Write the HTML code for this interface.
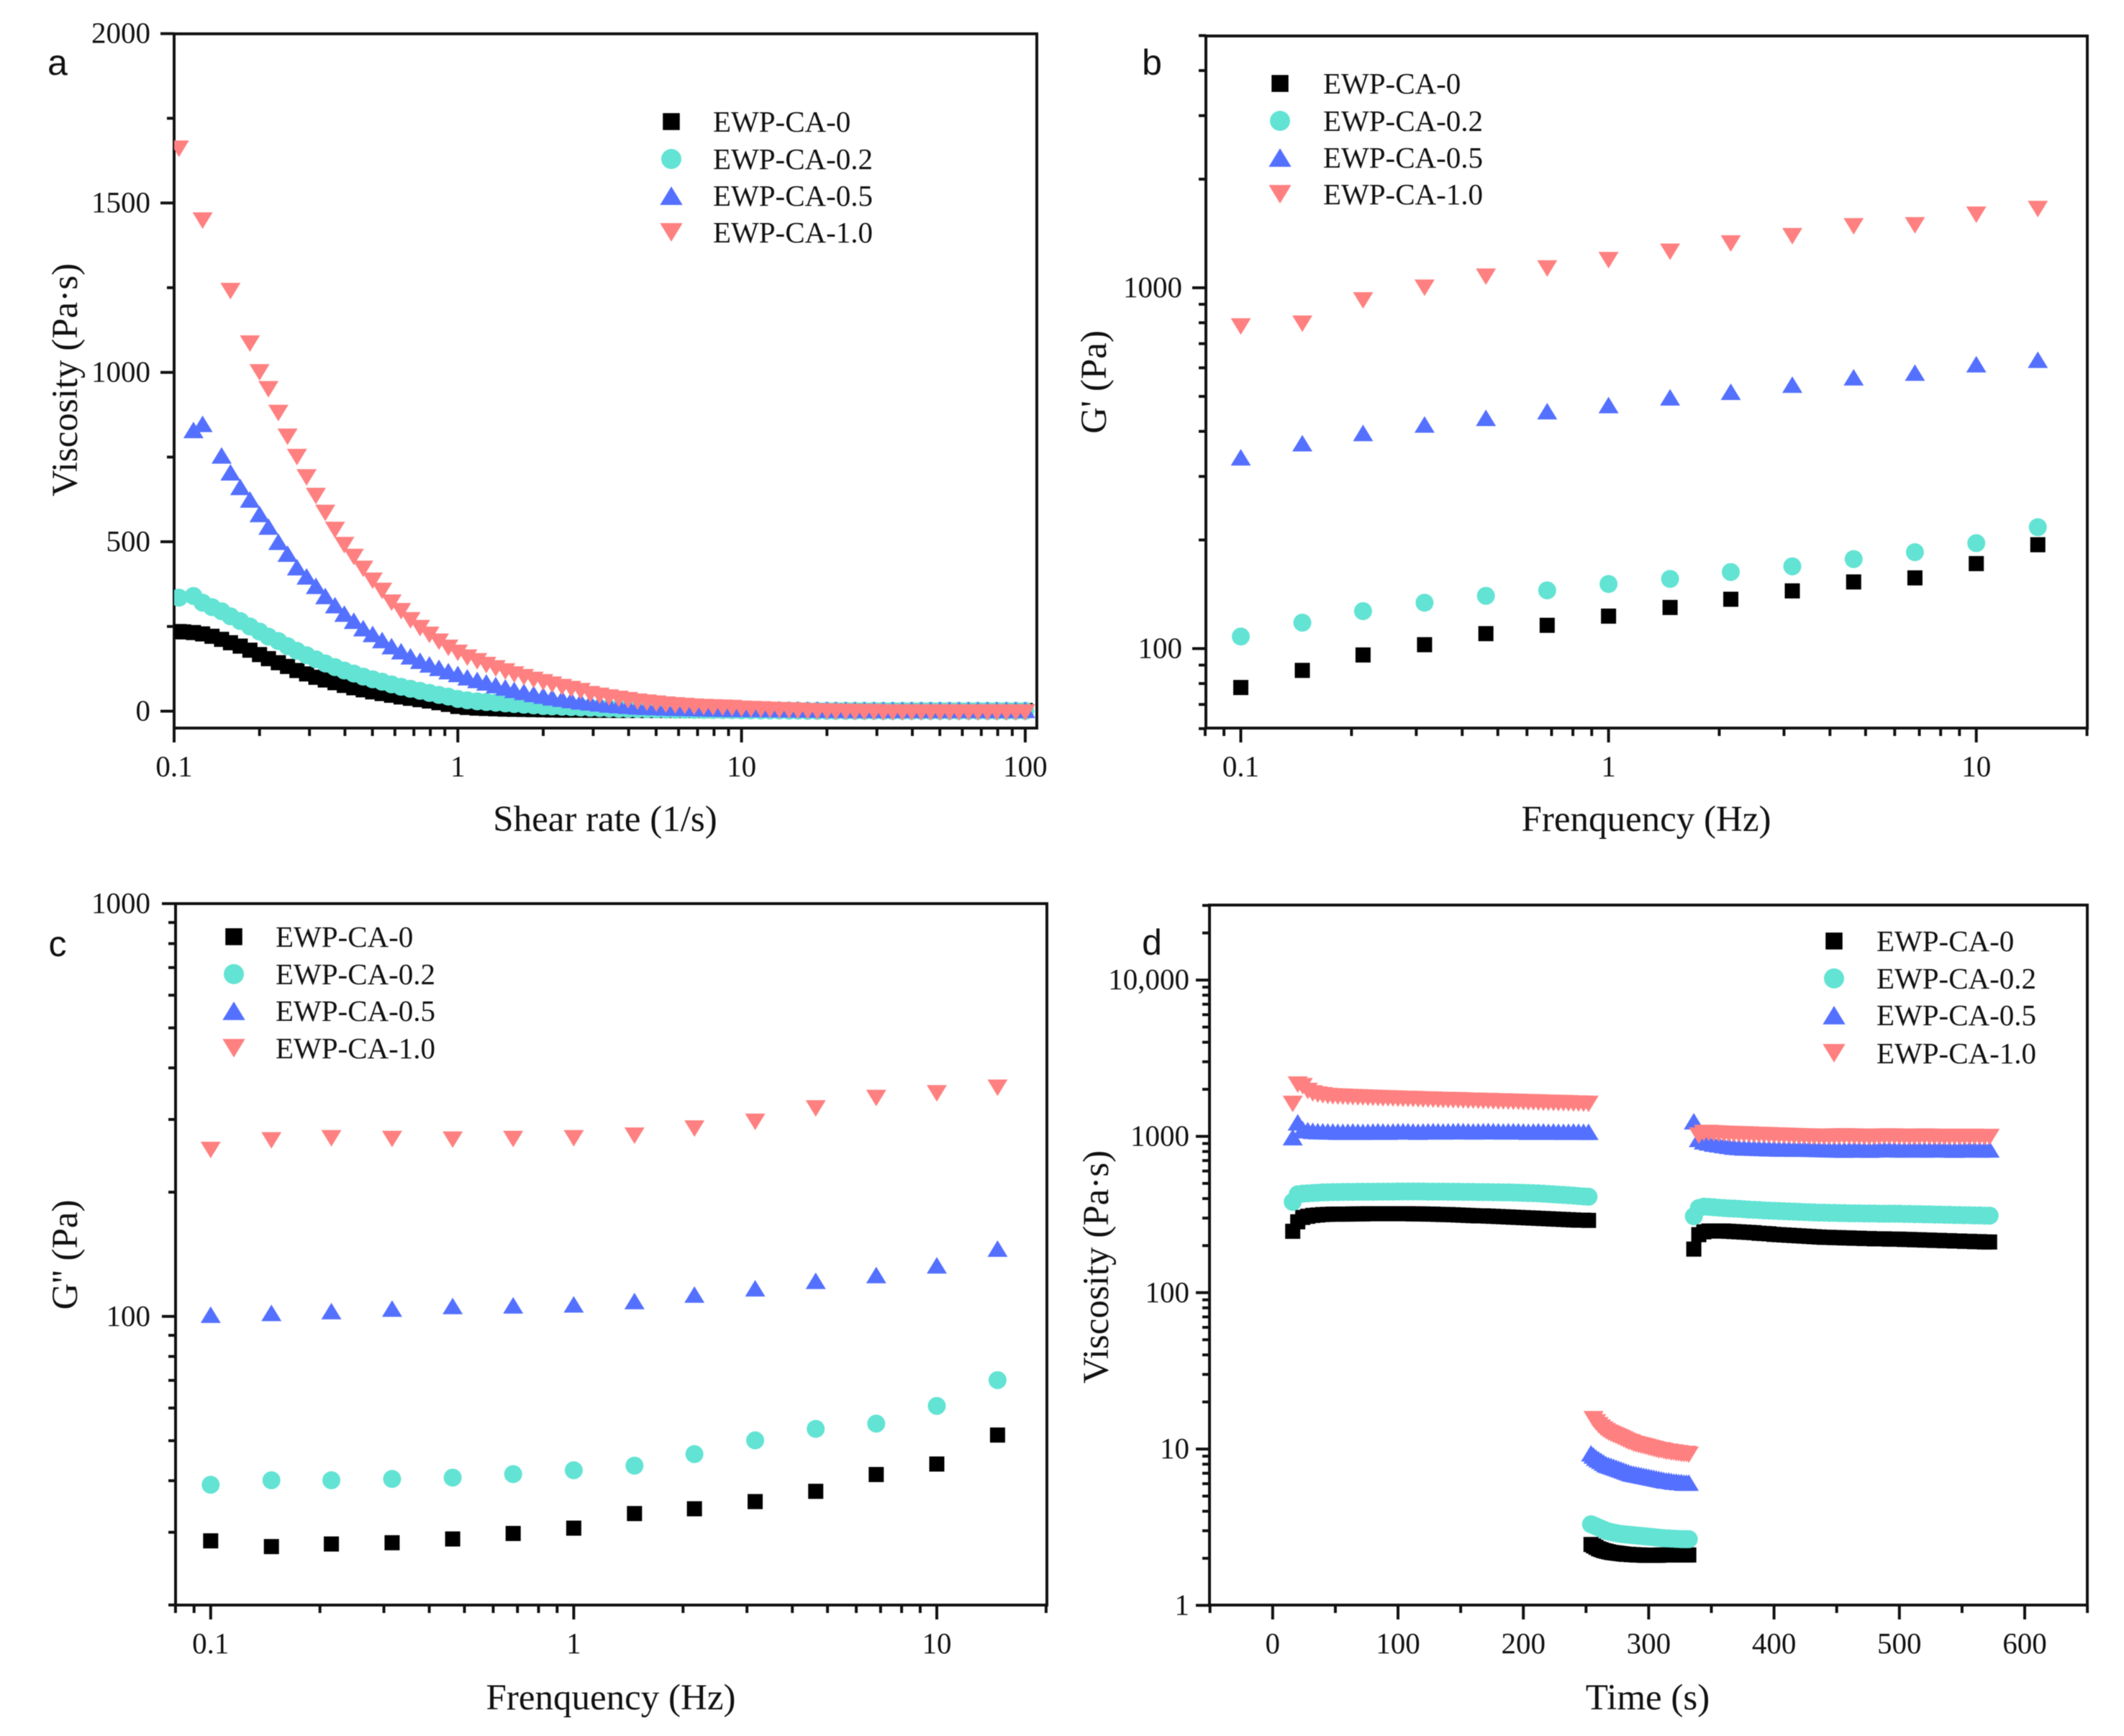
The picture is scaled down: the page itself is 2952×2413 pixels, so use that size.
<!DOCTYPE html>
<html lang="en">
<head>
<meta charset="utf-8">
<title>EWP-CA rheology panels</title>
<style>
html,body{margin:0;padding:0;background:#fff;}
svg{display:block;filter:blur(0.6px);}
text{font-family:"Liberation Serif",serif;fill:#111;}
.tick{font-size:41px;}
.title{font-size:51px;}
.legend{font-size:41px;}
.letter{font-family:"Liberation Sans",sans-serif;font-size:50px;fill:#111;}
</style>
</head>
<body>
<svg id="figure" xmlns="http://www.w3.org/2000/svg" width="2952" height="2413" viewBox="0 0 2952 2413">
<rect width="2952" height="2413" fill="#fff"/>
<defs>
<clipPath id="clip-a"><rect x="242" y="20" width="1198" height="992"/></clipPath>
</defs>
<g id="panel-a"></g>
<g id="panel-b"></g>
<g id="panel-c"></g>
<g id="panel-d"></g>
</svg>
<script>
const seriesNames = ["EWP-CA-0","EWP-CA-0.2","EWP-CA-0.5","EWP-CA-1.0"];

/* Panel a */
const shearRates = [0.104,0.108,0.117,0.126,0.136,0.147,0.158,0.171,0.185,0.2,0.215,0.233,0.251,0.271,0.293,0.316,0.341,0.369,0.398,0.43,0.464,0.501,0.541,0.584,0.631,0.681,0.736,0.794,0.858,0.926,
1,1.08,1.17,1.26,1.36,1.47,1.58,1.71,1.85,2,2.15,2.33,2.51,2.71,2.93,3.16,3.41,3.69,3.98,4.3,4.64,5.01,5.41,5.84,6.31,6.81,7.36,7.94,8.58,9.26,
10,10.8,11.7,12.6,13.6,14.7,15.8,17.1,18.5,20,21.5,23.3,25.1,27.1,29.3,31.6,34.1,36.9,39.8,43,46.4,50.1,54.1,58.4,63.1,68.1,73.6,79.4,85.8,92.6,100];
const viscA0 = [235,234,232,228,221,212,202,192,180,167,155,143,132,120,110,100,92,84,76,69,63,57,52,47,42,38,34,30,25,20,
14,11,9,8,7,6,5.5,5,4.5,4,3.5,3,3,3,2.5,2.5,2.5,2,2,2,2,2,2,2,2,2,2,2,2,2,
2,2,2,2,2,2,2,2,2,2,2,2,2,2,2,2,2,2,2,2,2,2,2,2,2,2,2,2,2,2,2];
const viscA02 = [335,null,340,320,307,295,280,266,250,235,220,207,192,178,165,153,141,130,120,111,102,94,87,79,72,66,60,54,48,43,
36,32,29,27,25,23,21,19,17,15,14,13,12,11,10,9,8,7,6.5,6,5.5,5,4.5,4.2,4,3.8,3.6,3.4,3.2,3,
2.5,2.5,2,2,2,1.5,1.5,1,1,1,1,1,1,1,1,1,1,1,1,1,1,1,1,1,1,1,1,1,1,1,1];
const viscA05 = [null,null,830,848,null,755,705,662,625,582,545,500,465,425,398,370,340,313,288,267,245,228,210,192,177,162,149,138,128,118,
110,100,92,85,77,70,63,57,51,46,41,37,33,29,26,23,20,18,16,14,13,12,11,10,9.5,9,8.5,8,7.5,7,
7,6.5,6.5,6,6,5.5,5.5,5,5,4.5,4.5,4,4,4,4,4,4,4,4,4,4,4,4,4,4,4,4,4,4,4,4];
const viscA10 = [1660,null,null,1448,null,null,1240,null,1085,1000,950,880,810,750,690,635,585,535,490,455,420,385,355,320,295,268,245,225,205,187,
172,158,147,136,126,117,108,100,92,85,78,71,65,59,50,45,40,36,32,28,25,22,19,17,15,13,12,11,10,9,
7,6,5,4,3,2,1,0,-1,-1,-2,-2,-3,-3,-3,-4,-4,-4,-4,-4,-4,-4,-4,-4,-4,-4,-4,-4,-4,-4,-4];
const xTicksA = [0.1,1,10,100];
const yTicksA = [0,500,1000,1500,2000];
const yMinorA = [250,750,1250,1750];

/* Panels b and c */
const frequencies = [0.1,0.147,0.215,0.316,0.464,0.681,1,1.47,2.15,3.16,4.64,6.81,10,14.7];
const gPrime0 = [78,87,96,102.5,110,116,123,130,137,144.5,153,157,172,194];
const gPrime02 = [108,118,127,134,140,145,151,156,163,169,177,185,196,217];
const gPrime05 = [339,371,396,418,436,455,473,497,515,539,565,582,614,632];
const gPrime10 = [781,795,922,1000,1073,1131,1193,1258,1326,1389,1480,1489,1594,1652];
const gDouble0 = [28.6,27.7,28.1,28.3,28.9,29.8,30.7,33.3,34.2,35.6,37.7,41.4,43.9,51.6];
const gDouble02 = [39.1,40.1,40.1,40.4,40.7,41.5,42.4,43.5,46.4,50.1,53.4,55,60.7,70.1];
const gDouble05 = [101,102,103,104.5,106,106.4,107,109,113,117,122,126,133,146];
const gDouble10 = [253,267,270,269,268,269,270,274,285,296,319,338,347,358];
const xTicksFreq = [0.1,1,10];
const yTicksB = [100,1000];
const yMinorB = [60,70,80,90,200,300,400,500,600,700,800,900,2000,3000,4000,5000];
const yTicksC = [100,1000];
const yMinorC = [20,30,40,50,60,70,80,90,200,300,400,500,600,700,800,900];

/* Panel d */
const timeHold1 = [16,20,24,28,32,36,40,44,48,52,56,60,64,68,72,76,80,84,88,92,96,100,104,108,112,116,120,124,128,132,136,140,144,148,152,156,160,164,168,172,176,180,184,188,192,196,200,204,208,212,216,220,224,228,232,236,240,244,248,252];
const timeShear = [254,256,258,260,262,264,266,268,270,272,274,276,278,280,282,284,286,288,290,292,294,296,298,300,302,304,306,308,310,312,314,316,318,320,322,324,326,328,330,332];
const timeHold2 = [336,340,344,348,352,356,360,364,368,372,376,380,384,388,392,396,400,404,408,412,416,420,424,428,432,436,440,444,448,452,456,460,464,468,472,476,480,484,488,492,496,500,504,508,512,516,520,524,528,532,536,540,544,548,552,556,560,564,568,572];

const hold1Black = [247,284,303,308,312,314,316,317,318,318,318,318,319,319,319,320,320,320,320,320,320,320,320,320,319,319,319,318,318,317,316,316,315,314,313,312,311,310,310,309,308,307,306,305,304,303,302,301,300,299,298,297,296,295,294,293,292,291,291,290];
const hold1Teal = [381,426,430,432,434,436,438,439,440,440,441,441,441,442,442,442,442,443,443,443,443,444,444,444,444,444,444,443,443,443,443,442,442,442,441,441,441,440,440,440,439,439,438,438,437,436,435,434,433,432,430,428,426,424,422,420,418,415,413,411];
const hold1Blue = [988,1230,1110,1095,1085,1080,1078,1075,1075,1072,1070,1072,1075,1072,1070,1072,1075,1078,1075,1072,1075,1078,1080,1078,1075,1072,1075,1078,1080,1078,1075,1078,1080,1082,1080,1078,1075,1078,1080,1082,1080,1078,1075,1078,1080,1078,1075,1072,1075,1078,1075,1072,1075,1072,1070,1072,1075,1072,1070,1070];
const hold1Red = [1610,2143,2090,1950,1880,1850,1830,1810,1800,1795,1790,1785,1780,1775,1770,1765,1760,1755,1750,1750,1745,1740,1735,1735,1730,1725,1720,1720,1715,1710,1705,1705,1700,1700,1695,1690,1690,1685,1680,1680,1675,1670,1670,1665,1660,1660,1655,1650,1650,1645,1640,1640,1635,1630,1630,1625,1620,1620,1615,1610];

const shearBlack = [2.45,2.4,2.35,2.3,2.27,2.24,2.22,2.2,2.18,2.17,2.16,2.15,2.14,2.13,2.12,2.12,2.11,2.11,2.1,2.1,2.1,2.09,2.09,2.09,2.09,2.09,2.09,2.09,2.1,2.1,2.1,2.1,2.1,2.1,2.1,2.1,2.1,2.1,2.1,2.1];
const shearTeal = [3.3,3.25,3.2,3.15,3.1,3.05,3,2.97,2.94,2.92,2.9,2.88,2.86,2.85,2.84,2.83,2.82,2.81,2.8,2.79,2.78,2.77,2.76,2.75,2.74,2.73,2.72,2.71,2.7,2.69,2.68,2.68,2.67,2.67,2.66,2.66,2.65,2.65,2.65,2.65];
const shearBlue = [9.4,9.1,8.8,8.6,8.4,8.2,8,7.9,7.8,7.7,7.6,7.5,7.4,7.3,7.2,7.1,7,6.95,6.9,6.85,6.8,6.75,6.7,6.65,6.6,6.55,6.5,6.45,6.4,6.35,6.3,6.3,6.25,6.2,6.2,6.15,6.15,6.1,6.1,6.1];
const shearRed = [null,15.5,14.8,14.2,13.7,13.3,13,12.7,12.5,12.3,12.1,11.9,11.7,11.5,11.3,11.1,11,10.8,10.7,10.6,10.5,10.4,10.3,10.2,10.1,10,9.9,9.8,9.8,9.7,9.6,9.6,9.5,9.5,9.4,9.4,9.3,9.3,9.3,9.2];

const hold2Black = [190,235,245,248,248,248,248,247,246,245,244,243,242,240,239,238,236,235,234,233,232,231,230,229,228,227,226,226,225,225,224,224,223,223,222,222,221,221,221,220,220,220,219,219,218,218,217,217,216,216,215,215,214,214,213,213,212,212,211,211];
const hold2Teal = [308,348,355,354,352,350,348,346,345,344,342,340,339,338,336,335,334,333,332,331,330,329,328,327,326,325,325,324,324,323,323,322,322,322,321,321,321,320,320,320,320,320,319,319,318,318,317,317,316,316,315,315,314,314,313,313,312,312,311,311];
const hold2Blue = [1250,964,930,915,900,890,880,870,860,855,850,848,846,844,842,840,838,836,835,835,834,835,836,834,832,830,828,826,825,824,822,825,828,826,824,822,825,828,830,828,826,825,824,826,828,826,824,825,826,828,826,824,822,824,826,828,826,824,825,825];
const hold2Red = [null,1010,1050,1050,1045,1040,1038,1035,1032,1030,1028,1025,1022,1020,1018,1015,1012,1010,1008,1005,1002,1000,998,996,995,994,992,994,996,998,1000,998,996,994,992,990,992,994,996,998,996,994,992,990,992,994,996,994,992,990,988,990,992,990,988,990,992,990,988,990];
const xTicksD = [0,100,200,300,400,500,600];
const xMinorD = [-50,50,150,250,350,450,550,650];
const yTicksD = [1,10,100,1000,10000];
const yTickTextD = ["1","10","100","1000","10,000"];
const yMinorD = [2,3,4,5,6,7,8,9,20,30,40,50,60,70,80,90,200,300,400,500,600,700,800,900,2000,3000,4000,5000,6000,7000,8000,9000,20000,30000];

const NS = "http://www.w3.org/2000/svg";
const minorMultipliers = [2,3,4,5,6,7,8,9];
const colors = {black:"#000000",teal:"#62E3D3",blue:"#5470FF",red:"#FF8080"};
const shapes = ["square","circle","up","down"];
const shapeColors = [colors.black,colors.teal,colors.blue,colors.red];

function svgEl(parent, tag, attrs){
  const el = document.createElementNS(NS, tag);
  for (const k in attrs) el.setAttribute(k, attrs[k]);
  parent.appendChild(el);
  return el;
}
function logAxis(anchorValue, anchorPx, pxPerDecade){
  return v => anchorPx + (Math.log10(v) - Math.log10(anchorValue)) * pxPerDecade;
}
function linAxis(anchorValue, anchorPx, pxPerUnit){
  return v => anchorPx + (v - anchorValue) * pxPerUnit;
}
function marker(parent, shape, cx, cy, scale, color, name){
  const s = scale || 1;
  let el;
  if (shape === "square") {
    el = svgEl(parent, "rect", {x:cx-10.5*s, y:cy-10.5*s, width:21*s, height:21*s, fill:color});
  } else if (shape === "circle") {
    el = svgEl(parent, "circle", {cx:cx, cy:cy, r:12.5*s, fill:color});
  } else if (shape === "up") {
    el = svgEl(parent, "polygon", {points:[cx-14*s,cy+11.5*s,cx+14*s,cy+11.5*s,cx,cy-11.5*s].join(" "), fill:color});
  } else {
    el = svgEl(parent, "polygon", {points:[cx-14*s,cy-11.5*s,cx+14*s,cy-11.5*s,cx,cy+11.5*s].join(" "), fill:color});
  }
  
  
  return el;
}
function label(parent, cls, x, y, anchor, str, name, rotate){
  const t = svgEl(parent, "text", {class:cls, x:x, y:y, "text-anchor":anchor});
  if (rotate) t.setAttribute("transform", "rotate(-90 " + x + " " + y + ")");
  t.textContent = str;
  
  
  return t;
}
function tickLine(parent, x1, y1, x2, y2, name){
  const l = svgEl(parent, "line", {x1:x1, y1:y1, x2:x2, y2:y2, stroke:"#111", "stroke-width":4});
  
  
  return l;
}
function drawFrame(g, box, xScale, yScale, xMajor, xMinor, yMajor, yMinor, xText, yText, xLabelY, yLabelX){
  const f = svgEl(g, "rect", {x:box.left, y:box.top, width:box.right-box.left, height:box.bottom-box.top, fill:"none", stroke:"#111", "stroke-width":4});
  
  
  xMajor.forEach((v,i) => {
    tickLine(g, xScale(v), box.bottom, xScale(v), box.bottom+20, 'x-major-tick');
    label(g, "tick", xScale(v), xLabelY, "middle", xText[i], 'x-tick-label');
  });
  xMinor.forEach(v => {
    tickLine(g, xScale(v), box.bottom, xScale(v), box.bottom+11, 'x-minor-tick');
  });
  yMajor.forEach((v,i) => {
    tickLine(g, box.left, yScale(v), box.left-19, yScale(v), 'y-major-tick');
    label(g, "tick", yLabelX, yScale(v)+13, "end", yText[i], 'y-tick-label');
  });
  yMinor.forEach(v => {
    tickLine(g, box.left, yScale(v), box.left-10, yScale(v), 'y-minor-tick');
  });
}
function drawLegend(g, markerX, textX, rows){
  seriesNames.forEach((n,i) => {
    marker(g, shapes[i], markerX, rows[i], 1.12, shapeColors[i], 'legend-marker');
    label(g, "legend", textX, rows[i]+14, "start", n, 'legend-entry');
  });
}
function drawSeries(g, xs, ys, shapeIndex, xScale, yScale){
  ys.forEach((v,i) => {
    if (v === null || v === undefined) return;
    marker(g, shapes[shapeIndex], xScale(xs[i]), yScale(v), 1, shapeColors[shapeIndex], 'data-point');
  });
}
function logMinor(lowExp, highExp, maxV, minV){
  const out = [];
  for (let e = lowExp; e <= highExp; e++) {
    minorMultipliers.forEach(m => {
      const v = m * Math.pow(10, e);
      if (v >= minV && v <= maxV) out.push(v);
    });
  }
  return out;
}

/* Panel a render */
(function(){
  const g = document.getElementById("panel-a");
  const box = {left:242,right:1441,top:47,bottom:1012};
  const x = logAxis(0.1, 242, 394.3);
  const y = linAxis(0, 988.5, -0.4709);
  const minors = logMinor(-1, 1, 100, 0.1);
  drawFrame(g, box, x, y, xTicksA, minors, yTicksA, yMinorA, xTicksA.map(String), yTicksA.map(String), 1079, 209);
  const clip = svgEl(g, "g", {"clip-path":"url(#clip-a)"});
  
  
  drawSeries(clip, shearRates, viscA0, 0, x, y);
  drawSeries(clip, shearRates, viscA02, 1, x, y);
  drawSeries(clip, shearRates, viscA05, 2, x, y);
  drawSeries(clip, shearRates, viscA10, 3, x, y);
  drawLegend(g, 933, 991, [169,221,272,323]);
  label(g, "title", 841, 1155, "middle", "Shear rate (1/s)", 'x-axis-title');
  label(g, "title", 107, 528, "middle", "Viscosity (Pa·s)", 'y-axis-title', true);
  label(g, "letter", 80, 104, "middle", "a", 'panel-letter-a');
})();

/* Panel b render */
(function(){
  const g = document.getElementById("panel-b");
  const box = {left:1676,right:2901,top:50,bottom:1012};
  const x = logAxis(0.1, 1724.5, 511.1);
  const y = logAxis(100, 901.5, -501.5);
  const minors = logMinor(-2, 1, 20, 0.08);
  drawFrame(g, box, x, y, xTicksFreq, minors, yTicksB, yMinorB, xTicksFreq.map(String), yTicksB.map(String), 1079, 1643);
  drawSeries(g, frequencies, gPrime0, 0, x, y);
  drawSeries(g, frequencies, gPrime02, 1, x, y);
  drawSeries(g, frequencies, gPrime05, 2, x, y);
  drawSeries(g, frequencies, gPrime10, 3, x, y);
  drawLegend(g, 1779, 1839, [116,168,219,270]);
  label(g, "title", 2288, 1155, "middle", "Frenquency (Hz)", 'x-axis-title');
  label(g, "title", 1537, 531, "middle", "G' (Pa)", 'y-axis-title', true);
  label(g, "letter", 1601, 104, "middle", "b", 'panel-letter-b');
})();

/* Panel c render */
(function(){
  const g = document.getElementById("panel-c");
  const box = {left:244,right:1455,top:1256,bottom:2231};
  const x = logAxis(0.1, 292.8, 504.6);
  const y = logAxis(100, 1829.8, -573.8);
  const minors = logMinor(-2, 1, 20, 0.08);
  drawFrame(g, box, x, y, xTicksFreq, minors, yTicksC, yMinorC, xTicksFreq.map(String), yTicksC.map(String), 2298, 209);
  drawSeries(g, frequencies, gDouble0, 0, x, y);
  drawSeries(g, frequencies, gDouble02, 1, x, y);
  drawSeries(g, frequencies, gDouble05, 2, x, y);
  drawSeries(g, frequencies, gDouble10, 3, x, y);
  drawLegend(g, 325, 383, [1302,1354,1405,1457]);
  label(g, "title", 849, 2376, "middle", "Frenquency (Hz)", 'x-axis-title');
  label(g, "title", 107, 1744, "middle", "G'' (Pa)", 'y-axis-title', true);
  label(g, "letter", 80, 1329, "middle", "c", 'panel-letter-c');
})();

/* Panel d render */
(function(){
  const g = document.getElementById("panel-d");
  const box = {left:1681,right:2901,top:1258,bottom:2231};
  const x = linAxis(0, 1768.8, 1.742);
  const y = logAxis(1, 2231.4, -217.3);
  drawFrame(g, box, x, y, xTicksD, xMinorD, yTicksD, yMinorD, xTicksD.map(String), yTickTextD, 2298, 1653);
  drawSeries(g, timeHold1, hold1Black, 0, x, y);
  drawSeries(g, timeShear, shearBlack, 0, x, y);
  drawSeries(g, timeHold2, hold2Black, 0, x, y);
  drawSeries(g, timeHold1, hold1Teal, 1, x, y);
  drawSeries(g, timeShear, shearTeal, 1, x, y);
  drawSeries(g, timeHold2, hold2Teal, 1, x, y);
  drawSeries(g, timeHold1, hold1Blue, 2, x, y);
  drawSeries(g, timeShear, shearBlue, 2, x, y);
  drawSeries(g, timeHold2, hold2Blue, 2, x, y);
  drawSeries(g, timeHold1, hold1Red, 3, x, y);
  drawSeries(g, timeShear, shearRed, 3, x, y);
  drawSeries(g, timeHold2, hold2Red, 3, x, y);
  drawLegend(g, 2549, 2608, [1308,1360,1411,1464]);
  label(g, "title", 2290, 2376, "middle", "Time (s)", 'x-axis-title');
  label(g, "title", 1540, 1761, "middle", "Viscosity (Pa·s)", 'y-axis-title', true);
  label(g, "letter", 1601, 1327, "middle", "d", 'panel-letter-d');
})();
</script>
</body>
</html>
